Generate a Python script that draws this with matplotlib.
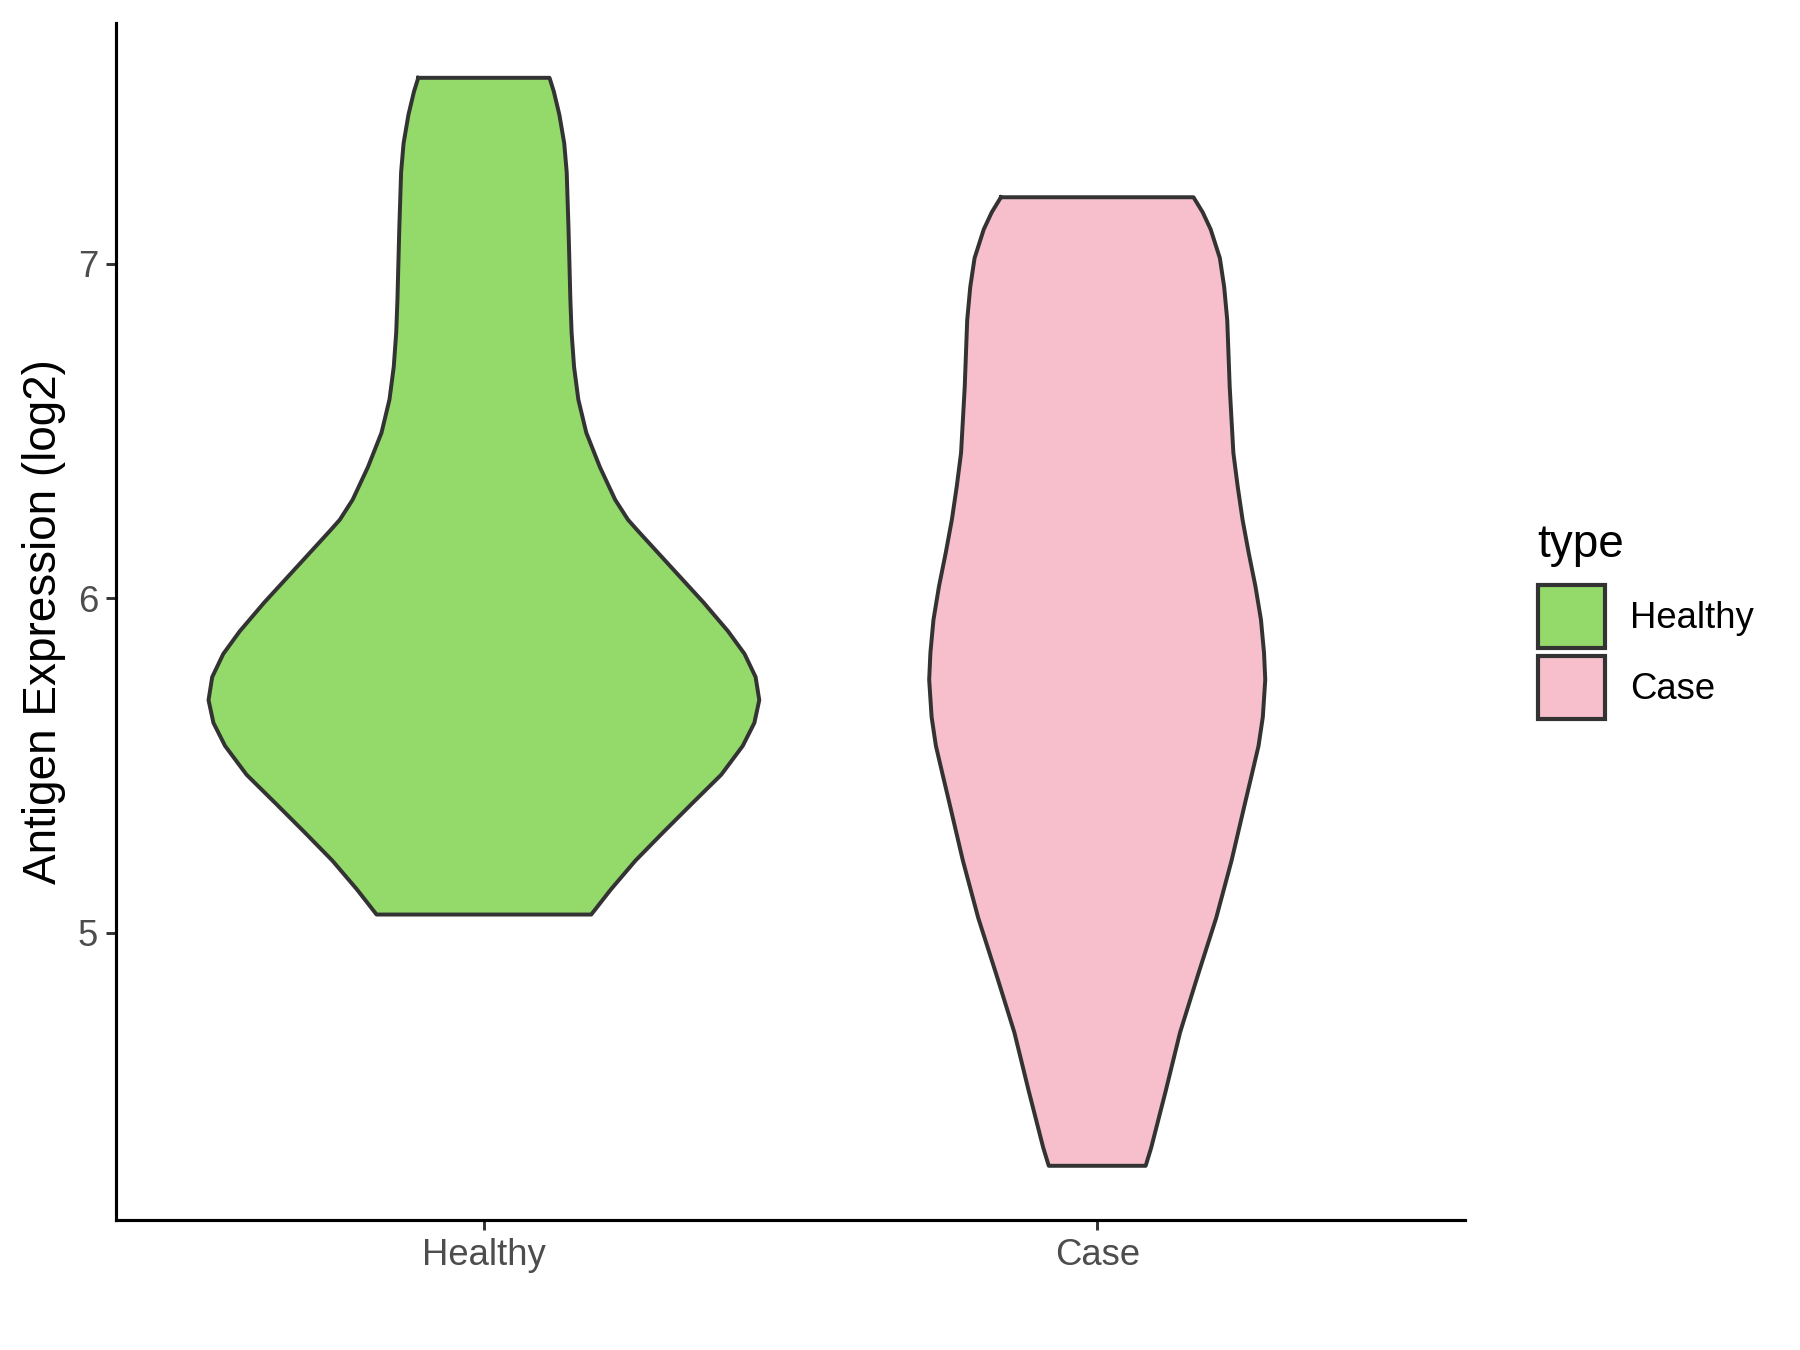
import numpy as np
import matplotlib.pyplot as plt
from matplotlib.patches import Patch

plt.rcParams['font.family'] = ['Liberation Sans', 'DejaVu Sans']

# groups and colours
groups = ['Healthy', 'Case']
colors = ['#93DA6A', '#F7BFCB']

# violin outlines: y value and half width (x units)
healthy_y = [7.556, 7.515, 7.446, 7.360, 7.274, 7.103, 6.892, 6.794, 6.692,
             6.594, 6.495, 6.393, 6.295, 6.235, 6.200, 6.160, 6.074, 5.988,
             5.902, 5.834, 5.765, 5.696, 5.628, 5.559, 5.473, 5.388, 5.302,
             5.216, 5.130, 5.055]
healthy_w = [0.107, 0.114, 0.123, 0.131, 0.135, 0.138, 0.141, 0.143, 0.147,
             0.154, 0.167, 0.189, 0.214, 0.235, 0.252, 0.272, 0.315, 0.358,
             0.398, 0.425, 0.443, 0.449, 0.441, 0.422, 0.387, 0.340, 0.293,
             0.247, 0.207, 0.175]

case_y = [7.199, 7.154, 7.103, 7.017, 6.931, 6.832, 6.733, 6.633, 6.534,
          6.435, 6.335, 6.235, 6.136, 6.036, 5.936, 5.837, 5.757, 5.645,
          5.559, 5.473, 5.388, 5.216, 5.045, 4.873, 4.702, 4.530, 4.358,
          4.304]
case_w = [0.157, 0.172, 0.185, 0.200, 0.207, 0.212, 0.214, 0.216, 0.219,
          0.222, 0.229, 0.237, 0.247, 0.258, 0.267, 0.272, 0.274, 0.270,
          0.263, 0.252, 0.241, 0.219, 0.194, 0.164, 0.135, 0.112, 0.088,
          0.079]

profiles = [(healthy_y, healthy_w), (case_y, case_w)]

fig = plt.figure(figsize=(12, 9), dpi=150)
ax = fig.add_axes([0.0644, 0.0963, 0.7496, 0.8867])

for i, (yy, ww) in enumerate(profiles):
    pos = i + 1
    yy = np.array(yy)
    ww = np.array(ww)
    ax.fill_betweenx(yy, pos - ww, pos + ww, color=colors[i], lw=0)
    xs = np.concatenate([pos - ww, (pos + ww)[::-1], [pos - ww[0]]])
    ys = np.concatenate([yy, yy[::-1], [yy[0]]])
    ax.plot(xs, ys, color='#333333', lw=1.9, solid_joinstyle='round')

ax.set_xlim(0.4, 2.6)
ax.set_ylim(4.142, 7.72)
ax.set_xticks([1, 2])
ax.set_xticklabels(groups)
ax.set_yticks([5, 6, 7])
ax.set_yticklabels(['5', '6', '7'])
ax.tick_params(colors='#333333', labelcolor='#4D4D4D', labelsize=17.5,
               length=5, width=1.4)
for s in ['top', 'right']:
    ax.spines[s].set_visible(False)
for s in ['left', 'bottom']:
    ax.spines[s].set_linewidth(1.5)
    ax.spines[s].set_color('black')
ax.set_ylabel('Antigen Expression (log2)', fontsize=22, labelpad=5.5)

handles = [Patch(facecolor=c, edgecolor='#333333', lw=2, label=g)
           for c, g in zip(colors, groups)]
leg = fig.legend(handles=handles, title='type', loc='upper left',
                 bbox_to_anchor=(0.836, 0.637), frameon=False,
                 fontsize=17.5, title_fontsize=22, handlelength=1.84,
                 handleheight=2.3, labelspacing=0.2, handletextpad=0.7,
                 alignment='left')
leg._legend_box.sep = 8.6

fig.savefig('out.png', dpi=150)
